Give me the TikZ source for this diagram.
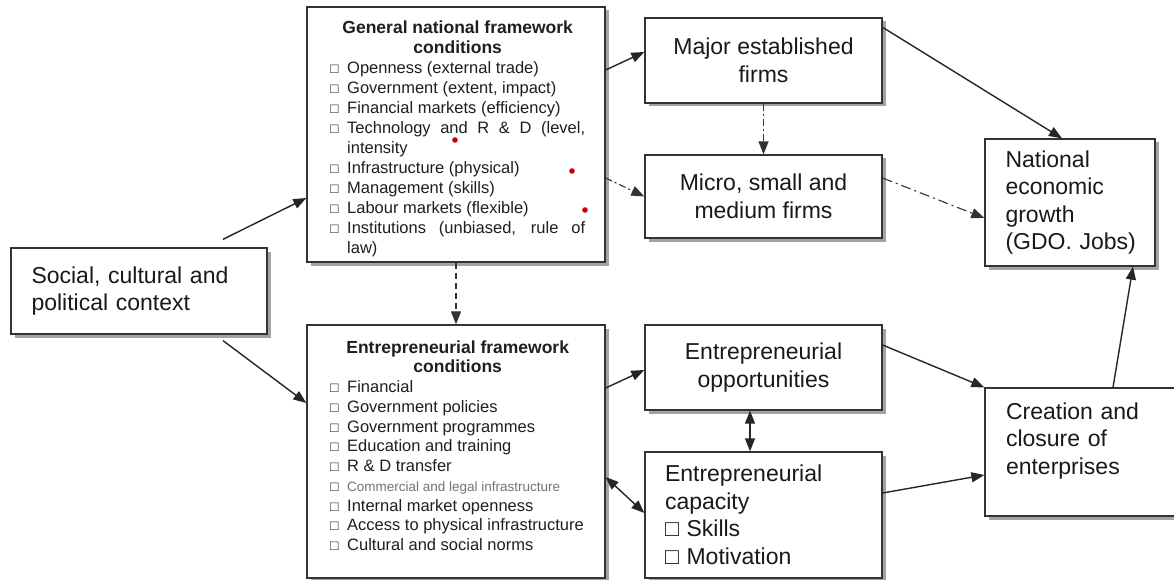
\documentclass[tikz,border=0pt]{standalone}
\usepackage{fontspec}
\setmainfont{Liberation Sans}
\usetikzlibrary{arrows.meta,shadows}
\newcommand\fwsetup{\parskip=0pt\parindent=0pt\tolerance=9999\hyphenpenalty=10000\exhyphenpenalty=10000}
\newcommand\fwitem[1]{\par\noindent\hangindent=17pt\hangafter=1\makebox[17pt][l]{\fontsize{14}{14}\selectfont □}#1\par}
\begin{document}
\begin{tikzpicture}[x=1pt,y=-1pt,
  box/.style={draw=black!80, line width=1.3pt, fill=white, inner sep=0pt, text=black!90,
    drop shadow={shadow xshift=3.5pt, shadow yshift=-3.5pt, fill=black!60, opacity=0.6},
    font=\fontsize{23}{27.5}\selectfont},
  fwtext/.style={anchor=north west, inner sep=0pt, text width=255pt, align=justify, text=black!88,
    font=\fontsize{16.5}{20}\selectfont},
  tip/.tip={Triangle[length=13pt,width=10pt]},
  arr/.style={line width=1.4pt, draw=black!85, -tip},
  darr/.style={line width=1.4pt, draw=black!85, tip-tip},
  dd/.style={line width=1.1pt, draw=black!80, -tip, dash pattern=on 7pt off 3pt on 2pt off 3pt}
]
\useasboundingbox (0,0) rectangle (1174,580);
\clip (0,0) rectangle (1174,580);
\fill[white] (0,0) rectangle (1174,580);

% boxes
\node[box, minimum width=256pt, minimum height=86pt, text width=215pt, align=left] (soc) at (139,291) {Social, cultural and\\political context};

\node[box, minimum width=298pt, minimum height=255pt] (gen) at (456,134.5) {};
\node[fwtext] (gentext) at (330,21) {\fwsetup
{\centering\bfseries\fontsize{17.5}{20}\selectfont General national framework\\conditions\par}
\fwitem{Openness (external trade)}
\fwitem{Government (extent, impact)}
\fwitem{Financial markets (efficiency)}
\fwitem{Technology and R \& D (level, intensity}
\fwitem{Infrastructure (physical)}
\fwitem{Management (skills)}
\fwitem{Labour markets (flexible)}
\fwitem{Institutions (unbiased, rule of law)}};

\node[box, minimum width=298pt, minimum height=253pt] (efc) at (456,451.5) {};
\node[fwtext, font=\fontsize{16.5}{19.75}\selectfont] (efctext) at (330,341) {\fwsetup
{\centering\bfseries\fontsize{17.5}{19}\selectfont Entrepreneurial framework\\conditions\par}
\fwitem{Financial}
\fwitem{Government policies}
\fwitem{Government programmes}
\fwitem{Education and training}
\fwitem{R \& D transfer}
\fwitem{{\fontsize{13.5}{19.75}\selectfont\color{black!55}Commercial and legal infrastructure}}
\fwitem{Internal market openness}
\fwitem{\mbox{Access to physical infrastructure}}
\fwitem{Cultural and social norms}};

\node[box, minimum width=237pt, minimum height=85pt, align=center] (maj) at (763.5,60.5) {Major established\\firms};
\node[box, minimum width=237pt, minimum height=83pt, align=center] (mic) at (763.5,196.5) {Micro, small and\\medium firms};
\node[box, minimum width=237pt, minimum height=85pt, align=center] (opp) at (763.5,367.5) {Entrepreneurial\\opportunities};
\node[box, minimum width=237pt, minimum height=126pt, text width=197pt, align=left] (cap) at (763.5,515) {Entrepreneurial\\capacity\\□ Skills\\□ Motivation};
\node[box, minimum width=170pt, minimum height=127pt, text width=129pt, align=left] (nat) at (1070,202.5) {National\\economic\\growth\\(GDO.~Jobs)};
\node[box, minimum width=205pt, minimum height=128pt, text width=163pt, align=left] (cre) at (1087.5,452) {Creation and\\closure of\\enterprises\\\mbox{}};

% red dots
\fill[red!80!black] (455,140) circle (2.8pt);
\fill[red!80!black] (572,171) circle (2.8pt);
\fill[red!80!black] (585,210) circle (2.8pt);

% connectors
\draw[arr] ([xshift=84pt,yshift=8pt]soc.north) -- ([yshift=-63.5pt]gen.west);
\draw[arr] ([xshift=84pt,yshift=-6pt]soc.south) -- ([yshift=48.5pt]efc.west);
\draw[arr] ([yshift=64.5pt]gen.east) -- ([yshift=8.5pt]maj.west);
\draw[dd] ([yshift=-43.5pt]gen.east) -- (mic.west);
\draw[dd] (maj.south) -- (mic.north);
\draw[arr] ([yshift=-10pt]maj.north east) -- ([xshift=-8pt]nat.north);
\draw[dd, dash pattern=on 10pt off 4pt on 2pt off 4pt] ([yshift=18.5pt]mic.east) -- ([yshift=-15.5pt]nat.west);
\draw[dd, dash pattern=on 6pt off 4pt] (gen.south) -- (efc.north);
\draw[arr] ([yshift=63.5pt]efc.east) -- ([yshift=-2.5pt]opp.west);
\draw[darr] ([yshift=-25.5pt]efc.east) -- ([yshift=2pt]cap.west);
\draw[darr] ([xshift=-13.5pt]opp.south) -- ([xshift=-13.5pt]cap.north);
\draw[arr] ([yshift=22.5pt]opp.east) -- (cre.north west);
\draw[arr] ([yshift=22pt]cap.east) -- ([yshift=-23pt]cre.west);
\draw[arr] ([xshift=25.5pt]cre.north) -- ([xshift=63pt]nat.south);
\end{tikzpicture}
\end{document}
